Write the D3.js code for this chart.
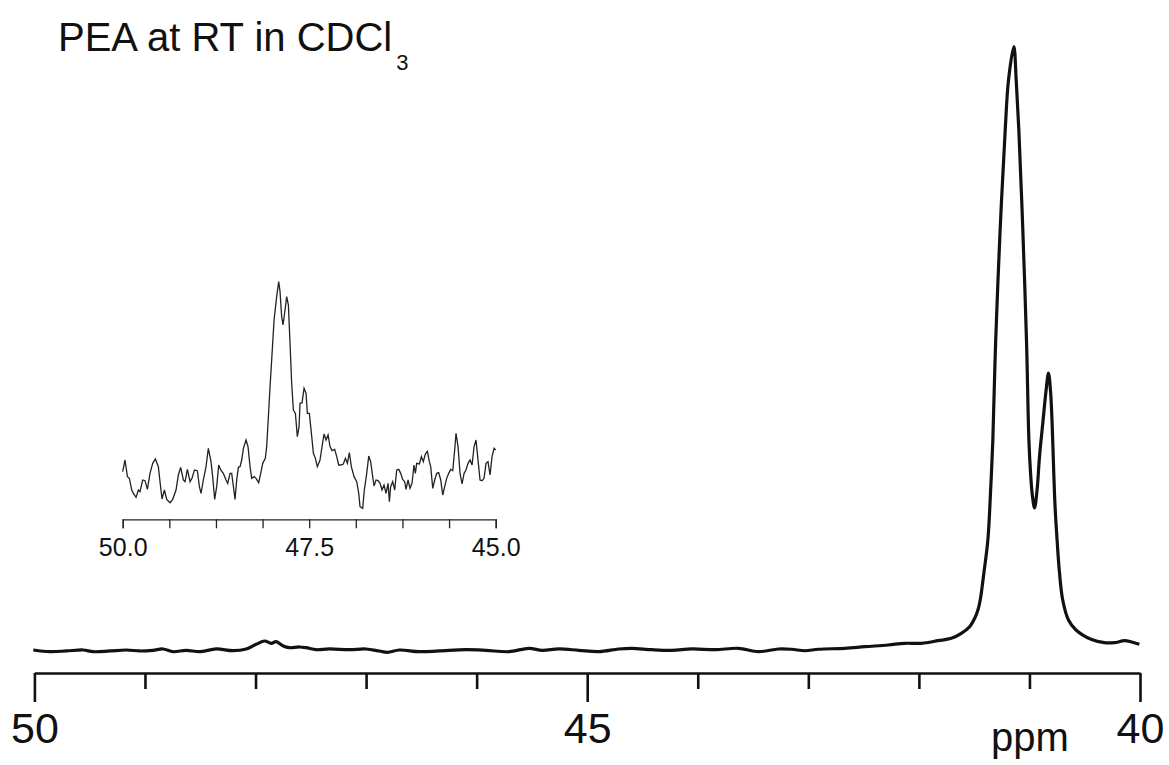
<!DOCTYPE html>
<head>
    <meta charset="utf-8">
    <script src="https://cdn.jsdelivr.net/npm/d3@7"></script>
    <style>
        body {
            margin: 0;
            background: #fff;
        }

        .axis text {
            font-family: "Liberation Sans", Arial, sans-serif;
            fill: #111;
        }

        .main.axis path,
        .main.axis line {
            stroke: #111;
            stroke-width: 2.6;
            fill: none;
        }

        .inset.axis path,
        .inset.axis line {
            stroke: #222;
            stroke-width: 1.3;
            fill: none;
        }

        .trace {
            fill: none;
            stroke: #111;
            stroke-width: 3.2;
            stroke-linejoin: round;
        }

        .inset-trace {
            fill: none;
            stroke: #222;
            stroke-width: 1.3;
        }

        .title {
            font-family: "Liberation Sans", Arial, sans-serif;
            fill: #111;
        }
    </style>
</head>
<body>
<div id="chart"></div>
<script type="text/javascript">
    // 13C spectrum, 50 - 40 ppm
    var mainPpm = [50.010, 49.859, 49.708, 49.559, 49.468, 49.318, 49.167, 49.047, 48.927, 48.837,
        48.746, 48.625, 48.505, 48.355, 48.205, 48.084, 47.994, 47.919, 47.858, 47.813,
        47.754, 47.693, 47.603, 47.542, 47.452, 47.332, 47.152, 47.001, 46.881, 46.806,
        46.700, 46.520, 46.339, 46.098, 45.918, 45.708, 45.527, 45.407, 45.256, 45.076,
        44.895, 44.715, 44.595, 44.414, 44.234, 44.053, 43.842, 43.632, 43.451, 43.271,
        43.151, 43.030, 42.910, 42.669, 42.488, 42.278, 42.127, 41.977, 41.827, 41.707,
        41.616, 41.541, 41.495, 41.466, 41.445, 41.412, 41.376, 41.351, 41.331, 41.306,
        41.265, 41.219, 41.189, 41.141, 41.120, 41.096, 41.060, 41.026, 41.005, 40.990,
        40.974, 40.954, 40.931, 40.909, 40.879, 40.849, 40.828, 40.810, 40.795, 40.780,
        40.768, 40.750, 40.728, 40.699, 40.647, 40.579, 40.443, 40.322, 40.232, 40.142,
        40.082, 40.006];
    var mainInt = [0.33, 0.05, 0.17, 0.33, 0.05, 0.17, 0.33, 0.17, 0.28, 0.50,
        0.05, 0.28, 0.05, 0.50, 0.22, 0.50, 1.27, 1.82, 1.44, 1.70,
        1.04, 0.71, 0.83, 0.71, 0.38, 0.50, 0.38, 0.50, 0.17, -0.05,
        0.33, 0.05, 0.17, 0.38, 0.28, 0.05, 0.61, 0.28, 0.50, 0.28,
        0.05, 0.50, 0.61, 0.38, 0.28, 0.50, 0.38, 0.61, 0.05, 0.50,
        0.45, 0.21, 0.45, 0.61, 0.88, 1.16, 1.44, 1.44, 1.87, 2.26,
        3.09, 4.18, 5.57, 6.94, 8.60, 13.06, 18.51, 26.78, 35.04, 51.07,
        69.75, 86.28, 94.55, 100, 94.55, 86.28, 69.75, 51.07, 35.04, 29.59,
        25.95, 23.80, 26.78, 32.28, 37.85, 43.31, 46.07, 43.31, 37.85, 29.59,
        23.97, 18.51, 13.06, 8.60, 5.29, 3.64, 2.10, 1.54, 1.54, 1.87,
        1.70, 1.27];

    // inset, vertical expansion of 50 - 45 ppm
    var insetPpm = [50.000, 49.969, 49.937, 49.911, 49.879, 49.857, 49.821, 49.790, 49.768, 49.732,
        49.701, 49.669, 49.634, 49.598, 49.562, 49.522, 49.500, 49.473, 49.441, 49.410,
        49.366, 49.330, 49.285, 49.254, 49.223, 49.187, 49.164, 49.133, 49.097, 49.071,
        49.039, 48.999, 48.972, 48.950, 48.919, 48.883, 48.852, 48.816, 48.794, 48.767,
        48.740, 48.713, 48.686, 48.651, 48.615, 48.592, 48.561, 48.539, 48.494, 48.472,
        48.449, 48.427, 48.405, 48.382, 48.347, 48.320, 48.293, 48.271, 48.239, 48.213,
        48.177, 48.150, 48.123, 48.088, 48.070, 48.047, 48.025, 48.003, 47.971, 47.936,
        47.909, 47.891, 47.869, 47.851, 47.824, 47.802, 47.779, 47.757, 47.735, 47.712,
        47.685, 47.659, 47.636, 47.623, 47.596, 47.569, 47.542, 47.525, 47.498, 47.466,
        47.444, 47.417, 47.391, 47.355, 47.328, 47.301, 47.274, 47.247, 47.221, 47.194,
        47.158, 47.131, 47.105, 47.078, 47.042, 47.015, 46.988, 46.962, 46.935, 46.899,
        46.863, 46.836, 46.819, 46.783, 46.761, 46.729, 46.702, 46.676, 46.649, 46.631,
        46.604, 46.577, 46.550, 46.524, 46.497, 46.470, 46.443, 46.425, 46.408, 46.381,
        46.354, 46.327, 46.300, 46.273, 46.247, 46.220, 46.202, 46.175, 46.148, 46.122,
        46.095, 46.077, 46.059, 46.023, 45.996, 45.970, 45.943, 45.916, 45.889, 45.871,
        45.844, 45.818, 45.791, 45.764, 45.737, 45.710, 45.684, 45.657, 45.630, 45.603,
        45.576, 45.550, 45.532, 45.505, 45.478, 45.451, 45.424, 45.398, 45.371, 45.344,
        45.317, 45.290, 45.264, 45.246, 45.210, 45.183, 45.156, 45.130, 45.103, 45.076,
        45.049, 45.022, 45.000];
    var insetInt = [14.5, 18, 13, 12.5, 9, 8, 6.8, 9, 8.5, 12,
        11.8, 9.2, 14, 17, 18.3, 16, 11.5, 6.3, 9, 6.2,
        5.2, 6.2, 9, 13.5, 15.8, 12, 11.5, 15.2, 11.5, 12.5,
        15, 14.8, 10, 8, 12, 16, 21.5, 17.5, 13, 6.2,
        10, 16.5, 15, 14, 12, 11, 14, 14, 6.2, 12,
        15.8, 16, 18, 21.5, 24, 22, 16, 12.5, 13, 12.5,
        11.2, 14, 17, 18.5, 22, 31, 40, 48, 60, 67,
        71.5, 68.5, 61, 58.5, 63, 67, 64.5, 53, 41, 33,
        32, 25, 28, 35, 35.2, 39.5, 38, 32, 32, 25,
        20, 18.5, 16, 18, 22, 25.8, 24, 25.5, 22, 20.8,
        21.2, 19, 16.5, 16.5, 16.8, 18.5, 17, 20.2, 16, 13,
        11.5, 8, 4, 3.5, 9, 14, 19.2, 17.5, 13, 10.2,
        12, 11.8, 11, 9, 10.5, 8, 11, 5.5, 10, 11.5,
        9, 15, 15.2, 14, 12.2, 11.5, 9.2, 12, 9.5, 11,
        16.5, 14, 17, 16.8, 19, 17.5, 19.8, 20.6, 17.5, 16,
        9.5, 12, 14, 14.2, 12, 7.5, 10, 12.5, 14, 15.2,
        14.8, 21, 26, 22, 14, 10.8, 14, 15, 17, 18,
        16.5, 22, 24, 20, 12, 11.8, 12.5, 17, 17.5, 13.5,
        19, 21.5, 21];

    var mainMajorTicks = [50, 45, 40];
    var mainMinorTicks = [49, 48, 47, 46, 44, 43, 42, 41];
    var insetTicks = [50, 49.375, 48.75, 48.125, 47.5, 46.875, 46.25, 45.625, 45];
    var insetTickLabels = [50, 47.5, 45];

    var width = 1169, height = 765;
    var svg = d3.select("#chart").append("svg")
        .attr("width", width)
        .attr("height", height);

    // main spectrum
    var x = d3.scaleLinear().domain([50, 40]).range([34.4, 1140]);
    var y = d3.scaleLinear().domain([0, 100]).range([652, 46.7]);
    var axisY = 673;

    var mainData = mainPpm.map(function (p, i) {
        return {ppm: p, v: mainInt[i]};
    });
    var line = d3.line()
        .x(function (d) { return x(d.ppm); })
        .y(function (d) { return y(d.v); })
        .curve(d3.curveCatmullRom.alpha(0.5));

    svg.append("path")
        .datum(mainData)
        .attr("class", "trace")
        .attr("d", line);

    var minorAxis = d3.axisBottom(x).tickValues(mainMinorTicks)
        .tickSize(16).tickSizeOuter(0).tickFormat("");
    var majorAxis = d3.axisBottom(x).tickValues(mainMajorTicks)
        .tickSize(29).tickSizeOuter(0).tickPadding(10).tickFormat(d3.format("d"));

    svg.append("g")
        .attr("class", "main axis")
        .attr("transform", "translate(0," + axisY + ")")
        .call(minorAxis);
    var gMajor = svg.append("g")
        .attr("class", "main axis")
        .attr("transform", "translate(0," + axisY + ")")
        .call(majorAxis);
    gMajor.selectAll("text").attr("font-size", "43px");
    gMajor.select(".domain").remove();

    svg.append("text")
        .attr("class", "axis title")
        .attr("x", 1030)
        .attr("y", 751)
        .attr("text-anchor", "middle")
        .attr("font-size", "40px")
        .text("ppm");

    // inset
    var xi = d3.scaleLinear().domain([50, 45]).range([122.7, 495.7]);
    var yi = d3.scaleLinear().domain([0, 72]).range([520, 280]);
    var insetAxisY = 519.3;

    var insetData = insetPpm.map(function (p, i) {
        return {ppm: p, v: insetInt[i]};
    });
    var insetLine = d3.line()
        .x(function (d) { return xi(d.ppm); })
        .y(function (d) { return yi(d.v); });

    svg.append("path")
        .datum(insetData)
        .attr("class", "inset-trace")
        .attr("d", insetLine);

    var insetAxis = d3.axisBottom(xi).tickValues(insetTicks)
        .tickSize(9).tickSizeOuter(9).tickPadding(10)
        .tickFormat(function (d) {
            return insetTickLabels.indexOf(d) >= 0 ? d3.format(".1f")(d) : "";
        });
    var gInset = svg.append("g")
        .attr("class", "inset axis")
        .attr("transform", "translate(0," + insetAxisY + ")")
        .call(insetAxis);
    gInset.selectAll("text").attr("font-size", "25px");

    // title
    var title = svg.append("text")
        .attr("class", "title")
        .attr("x", 58)
        .attr("y", 50.7)
        .attr("font-size", "40px")
        .text("PEA at RT in CDCl");
    title.append("tspan")
        .attr("font-size", "22px")
        .attr("dx", 4)
        .attr("dy", 19)
        .text("3");
</script>
</body>
</html>
